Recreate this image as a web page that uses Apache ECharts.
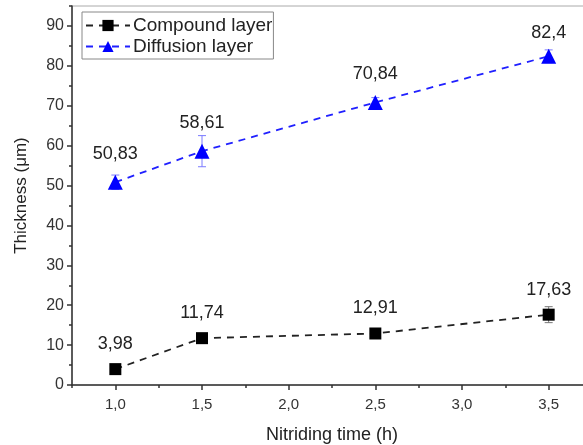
<!DOCTYPE html>
<html>
<head>
<meta charset="utf-8">
<script src="https://cdn.jsdelivr.net/npm/echarts@6/dist/echarts.min.js"></script>
<style>html,body{margin:0;padding:0;background:#fff;}#c{width:583px;height:445px;}</style>
</head>
<body>
<div id="c"></div>
<script>
var times = [1.0, 1.5, 2.5, 3.5];
var compound = [3.98, 11.74, 12.91, 17.63];
var compoundErr = [0.8, 0.8, 0.8, 2.0];
var diffusion = [50.83, 58.61, 70.84, 82.4];
var diffusionErr = [1.8, 3.9, 1.2, 1.6];
var xMajor = [1.0, 1.5, 2.0, 2.5, 3.0, 3.5];
var xMinor = [0.75, 1.25, 1.75, 2.25, 2.75, 3.25, 3.75];
var yMajor = [0, 10, 20, 30, 40, 50, 60, 70, 80, 90];
var yMinor = [5, 15, 25, 35, 45, 55, 65, 75, 85, 95];

var FONT = 'Liberation Sans, Arial, sans-serif';
function comma(v, d) { return d == null ? String(v).replace('.', ',') : v.toFixed(d).replace('.', ','); }
function pointData(xs, ys, labelDist) {
  return xs.map(function (x, i) {
    var item = { value: [x, ys[i]] };
    if (labelDist && labelDist[i] != null) item.label = { distance: labelDist[i] };
    return item;
  });
}
function errData(xs, ys, es) { return xs.map(function (x, i) { return [x, ys[i] - es[i], ys[i] + es[i]]; }); }

function errRender(color) {
  return function (params, api) {
    var lo = api.coord([api.value(0), api.value(1)]);
    var hi = api.coord([api.value(0), api.value(2)]);
    var w = 4;
    var st = { stroke: color, lineWidth: 1 };
    return { type: 'group', children: [
      { type: 'line', shape: { x1: lo[0], y1: lo[1], x2: hi[0], y2: hi[1] }, style: st },
      { type: 'line', shape: { x1: lo[0] - w, y1: lo[1], x2: lo[0] + w, y2: lo[1] }, style: st },
      { type: 'line', shape: { x1: hi[0] - w, y1: hi[1], x2: hi[0] + w, y2: hi[1] }, style: st }
    ]};
  };
}

var chart = echarts.init(document.getElementById('c'));
var xBase = { type: 'value', min: 0.75, max: 3.75, gridIndex: 0 };
var yBase = { type: 'value', min: 0, max: 95, gridIndex: 0 };
chart.setOption({
  animation: false,
  textStyle: { fontFamily: FONT },
  grid: { left: 72, top: 6, width: 520, height: 379, outerBoundsMode: 'none', containLabel: false,
    show: true, borderColor: '#aaa', borderWidth: 1, backgroundColor: 'transparent' },
  legend: {
    left: 82, top: 12, orient: 'vertical',
    borderColor: '#888', borderWidth: 1, borderRadius: 0,
    padding: [4, 1, 3, 3], itemGap: 2, itemWidth: 44, itemHeight: 14,
    textStyle: { fontSize: 19, color: '#222', fontFamily: FONT, padding: [0, 0, 0, -2] },
    data: ['Compound layer', 'Diffusion layer']
  },
  xAxis: [
    Object.assign({}, xBase, {
      name: 'Nitriding time (h)', nameLocation: 'middle', nameGap: 41,
      nameTextStyle: { fontSize: 18, color: '#222', fontFamily: FONT },
      axisLine: { show: true, lineStyle: { color: '#333', width: 1.5 } },
      axisTick: { show: true, length: 5, customValues: xMajor, lineStyle: { color: '#333', width: 1.5 } },
      axisLabel: { customValues: xMajor, fontSize: 15, color: '#333', margin: 12, formatter: function (v) { return comma(v, 1); } },
      splitLine: { show: false }
    }),
    Object.assign({}, xBase, {
      position: 'bottom',
      axisLine: { show: false },
      axisTick: { show: true, length: 3, customValues: xMinor, lineStyle: { color: '#333', width: 1.5 } },
      axisLabel: { show: false },
      splitLine: { show: false }
    })
  ],
  yAxis: [
    Object.assign({}, yBase, {
      name: 'Thickness (\u03bcm)', nameLocation: 'middle', nameGap: 42,
      nameTextStyle: { fontSize: 17, color: '#222', fontFamily: FONT },
      axisLine: { show: true, lineStyle: { color: '#333', width: 1.5 } },
      axisTick: { show: true, length: 5, customValues: yMajor, lineStyle: { color: '#333', width: 1.5 } },
      axisLabel: { customValues: yMajor, fontSize: 16, color: '#333', margin: 8 },
      splitLine: { show: false }
    }),
    Object.assign({}, yBase, {
      position: 'left',
      axisLine: { show: false },
      axisTick: { show: true, length: 3, customValues: yMinor, lineStyle: { color: '#333', width: 1.5 } },
      axisLabel: { show: false },
      splitLine: { show: false }
    })
  ],
  series: [
    { type: 'custom', name: 'cErr', renderItem: errRender('#777'), data: errData(times, compound, compoundErr), z: 1, silent: true,
      encode: { x: 0, y: [1, 2] } },
    { type: 'custom', name: 'dErr', renderItem: errRender('#7a7aff'), data: errData(times, diffusion, diffusionErr), z: 1, silent: true,
      encode: { x: 0, y: [1, 2] } },
    {
      type: 'line', name: 'Compound layer', data: pointData(times, compound), z: 3,
      symbol: 'rect', symbolSize: 12,
      itemStyle: { color: '#000' },
      lineStyle: { color: '#222', width: 1.8, type: [7, 6] },
      label: { show: true, position: 'top', distance: 10, fontSize: 18, color: '#222', fontFamily: FONT,
        formatter: function (p) { return comma(p.value[1]); } }
    },
    {
      type: 'line', name: 'Diffusion layer', data: pointData(times, diffusion, [null, null, null, 7]), z: 3,
      symbol: 'triangle', symbolSize: 15,
      itemStyle: { color: '#0000ff' },
      lineStyle: { color: '#2020ff', width: 1.8, type: [7, 6] },
      label: { show: true, position: 'top', distance: 12, fontSize: 18, color: '#222', fontFamily: FONT,
        formatter: function (p) { return comma(p.value[1]); } }
    }
  ]
});
</script>
</body>
</html>
